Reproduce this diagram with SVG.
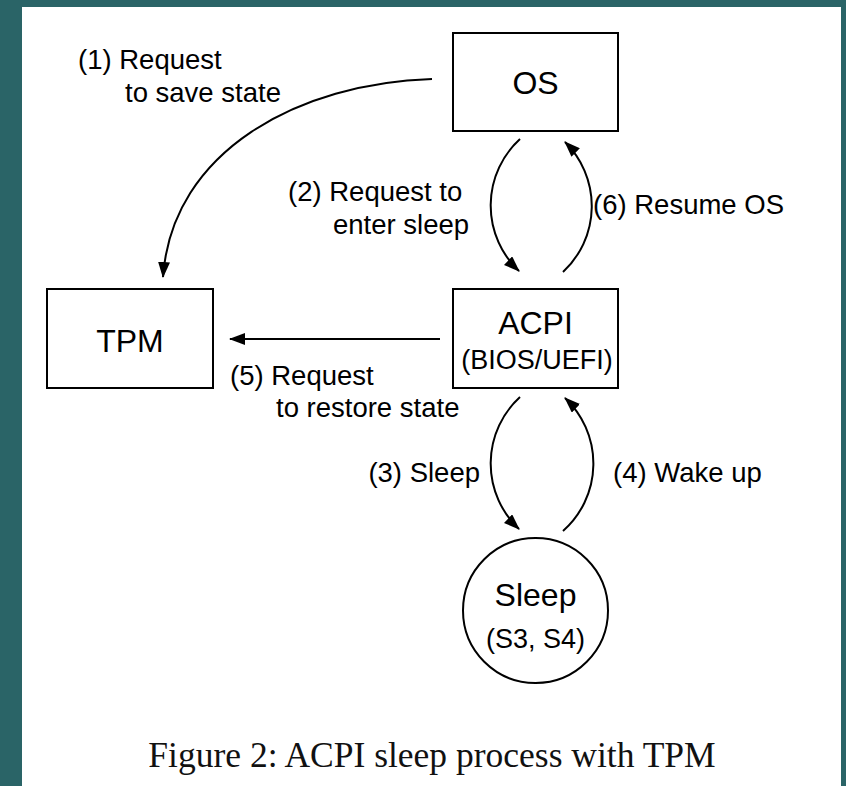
<svg xmlns="http://www.w3.org/2000/svg" width="846" height="786" viewBox="0 0 846 786">
  <defs>
    <marker id="head" viewBox="0 0 16 12" refX="15" refY="6" markerWidth="16" markerHeight="12" markerUnits="userSpaceOnUse" orient="auto">
      <path d="M0,0 L16,6 L0,12 z" fill="#000"/>
    </marker>
  </defs>
  <style>
    .box { fill: #fff; stroke: #000; stroke-width: 2; }
    .edge { fill: none; stroke: #000; stroke-width: 2; marker-end: url(#head); }
    .name { font-family: "Liberation Sans", Arial, Helvetica, sans-serif; font-size: 32px; fill: #000; text-anchor: middle; }
    .sub { font-family: "Liberation Sans", Arial, Helvetica, sans-serif; font-size: 27px; fill: #000; text-anchor: middle; }
    .lbl { font-family: "Liberation Sans", Arial, Helvetica, sans-serif; font-size: 27.5px; fill: #000; }
    .cap { font-family: "Liberation Serif", "Times New Roman", serif; font-size: 35.5px; fill: #111; text-anchor: middle; }
  </style>

  <!-- slide backdrop and page -->
  <rect x="0" y="0" width="846" height="786" fill="#2a6467"/>
  <rect x="22" y="7" width="819" height="779" fill="#fff"/>

  <g id="os">
    <rect class="box" x="453" y="33" width="165" height="98"/>
    <text class="name" x="535.5" y="94">OS</text>
  </g>

  <g id="acpi">
    <rect class="box" x="453" y="289" width="165" height="99"/>
    <text class="name" x="535.5" y="334">ACPI</text>
    <text class="sub" x="537" y="369">(BIOS/UEFI)</text>
  </g>

  <g id="tpm">
    <rect class="box" x="47" y="289" width="166" height="99"/>
    <text class="name" x="130" y="352">TPM</text>
  </g>

  <g id="sleep">
    <circle class="box" cx="535.5" cy="610.5" r="72.5"/>
    <text class="name" x="535.5" y="606">Sleep</text>
    <text class="sub" x="535.5" y="648">(S3, S4)</text>
  </g>

  <g id="connectors">
    <!-- (1) OS to TPM -->
    <path class="edge" d="M432,79 C300,83 172,150 163,277"/>
    <!-- (2) OS to ACPI -->
    <path class="edge" d="M520,139 A90,90 0 0 0 519,271"/>
    <!-- (6) ACPI to OS -->
    <path class="edge" d="M563,272 A90,90 0 0 0 565,142"/>
    <!-- (5) ACPI to TPM -->
    <path class="edge" d="M440,339 L230,339"/>
    <!-- (3) ACPI to Sleep -->
    <path class="edge" d="M520,397 A90,90 0 0 0 519,529"/>
    <!-- (4) Sleep to ACPI -->
    <path class="edge" d="M563,531 A90,90 0 0 0 565,398"/>
  </g>

  <g id="labels">
    <text class="lbl" x="78" y="69">(1) Request</text>
    <text class="lbl" x="125" y="102">to save state</text>
    <text class="lbl" x="288" y="201">(2) Request to</text>
    <text class="lbl" x="333" y="234">enter sleep</text>
    <text class="lbl" x="593" y="214">(6) Resume OS</text>
    <text class="lbl" x="230" y="385">(5) Request</text>
    <text class="lbl" x="276" y="417">to restore state</text>
    <text class="lbl" x="480" y="482" text-anchor="end">(3) Sleep</text>
    <text class="lbl" x="613" y="482">(4) Wake up</text>
  </g>

  <text class="cap" x="432" y="767">Figure 2:  ACPI sleep process with TPM</text>
</svg>
